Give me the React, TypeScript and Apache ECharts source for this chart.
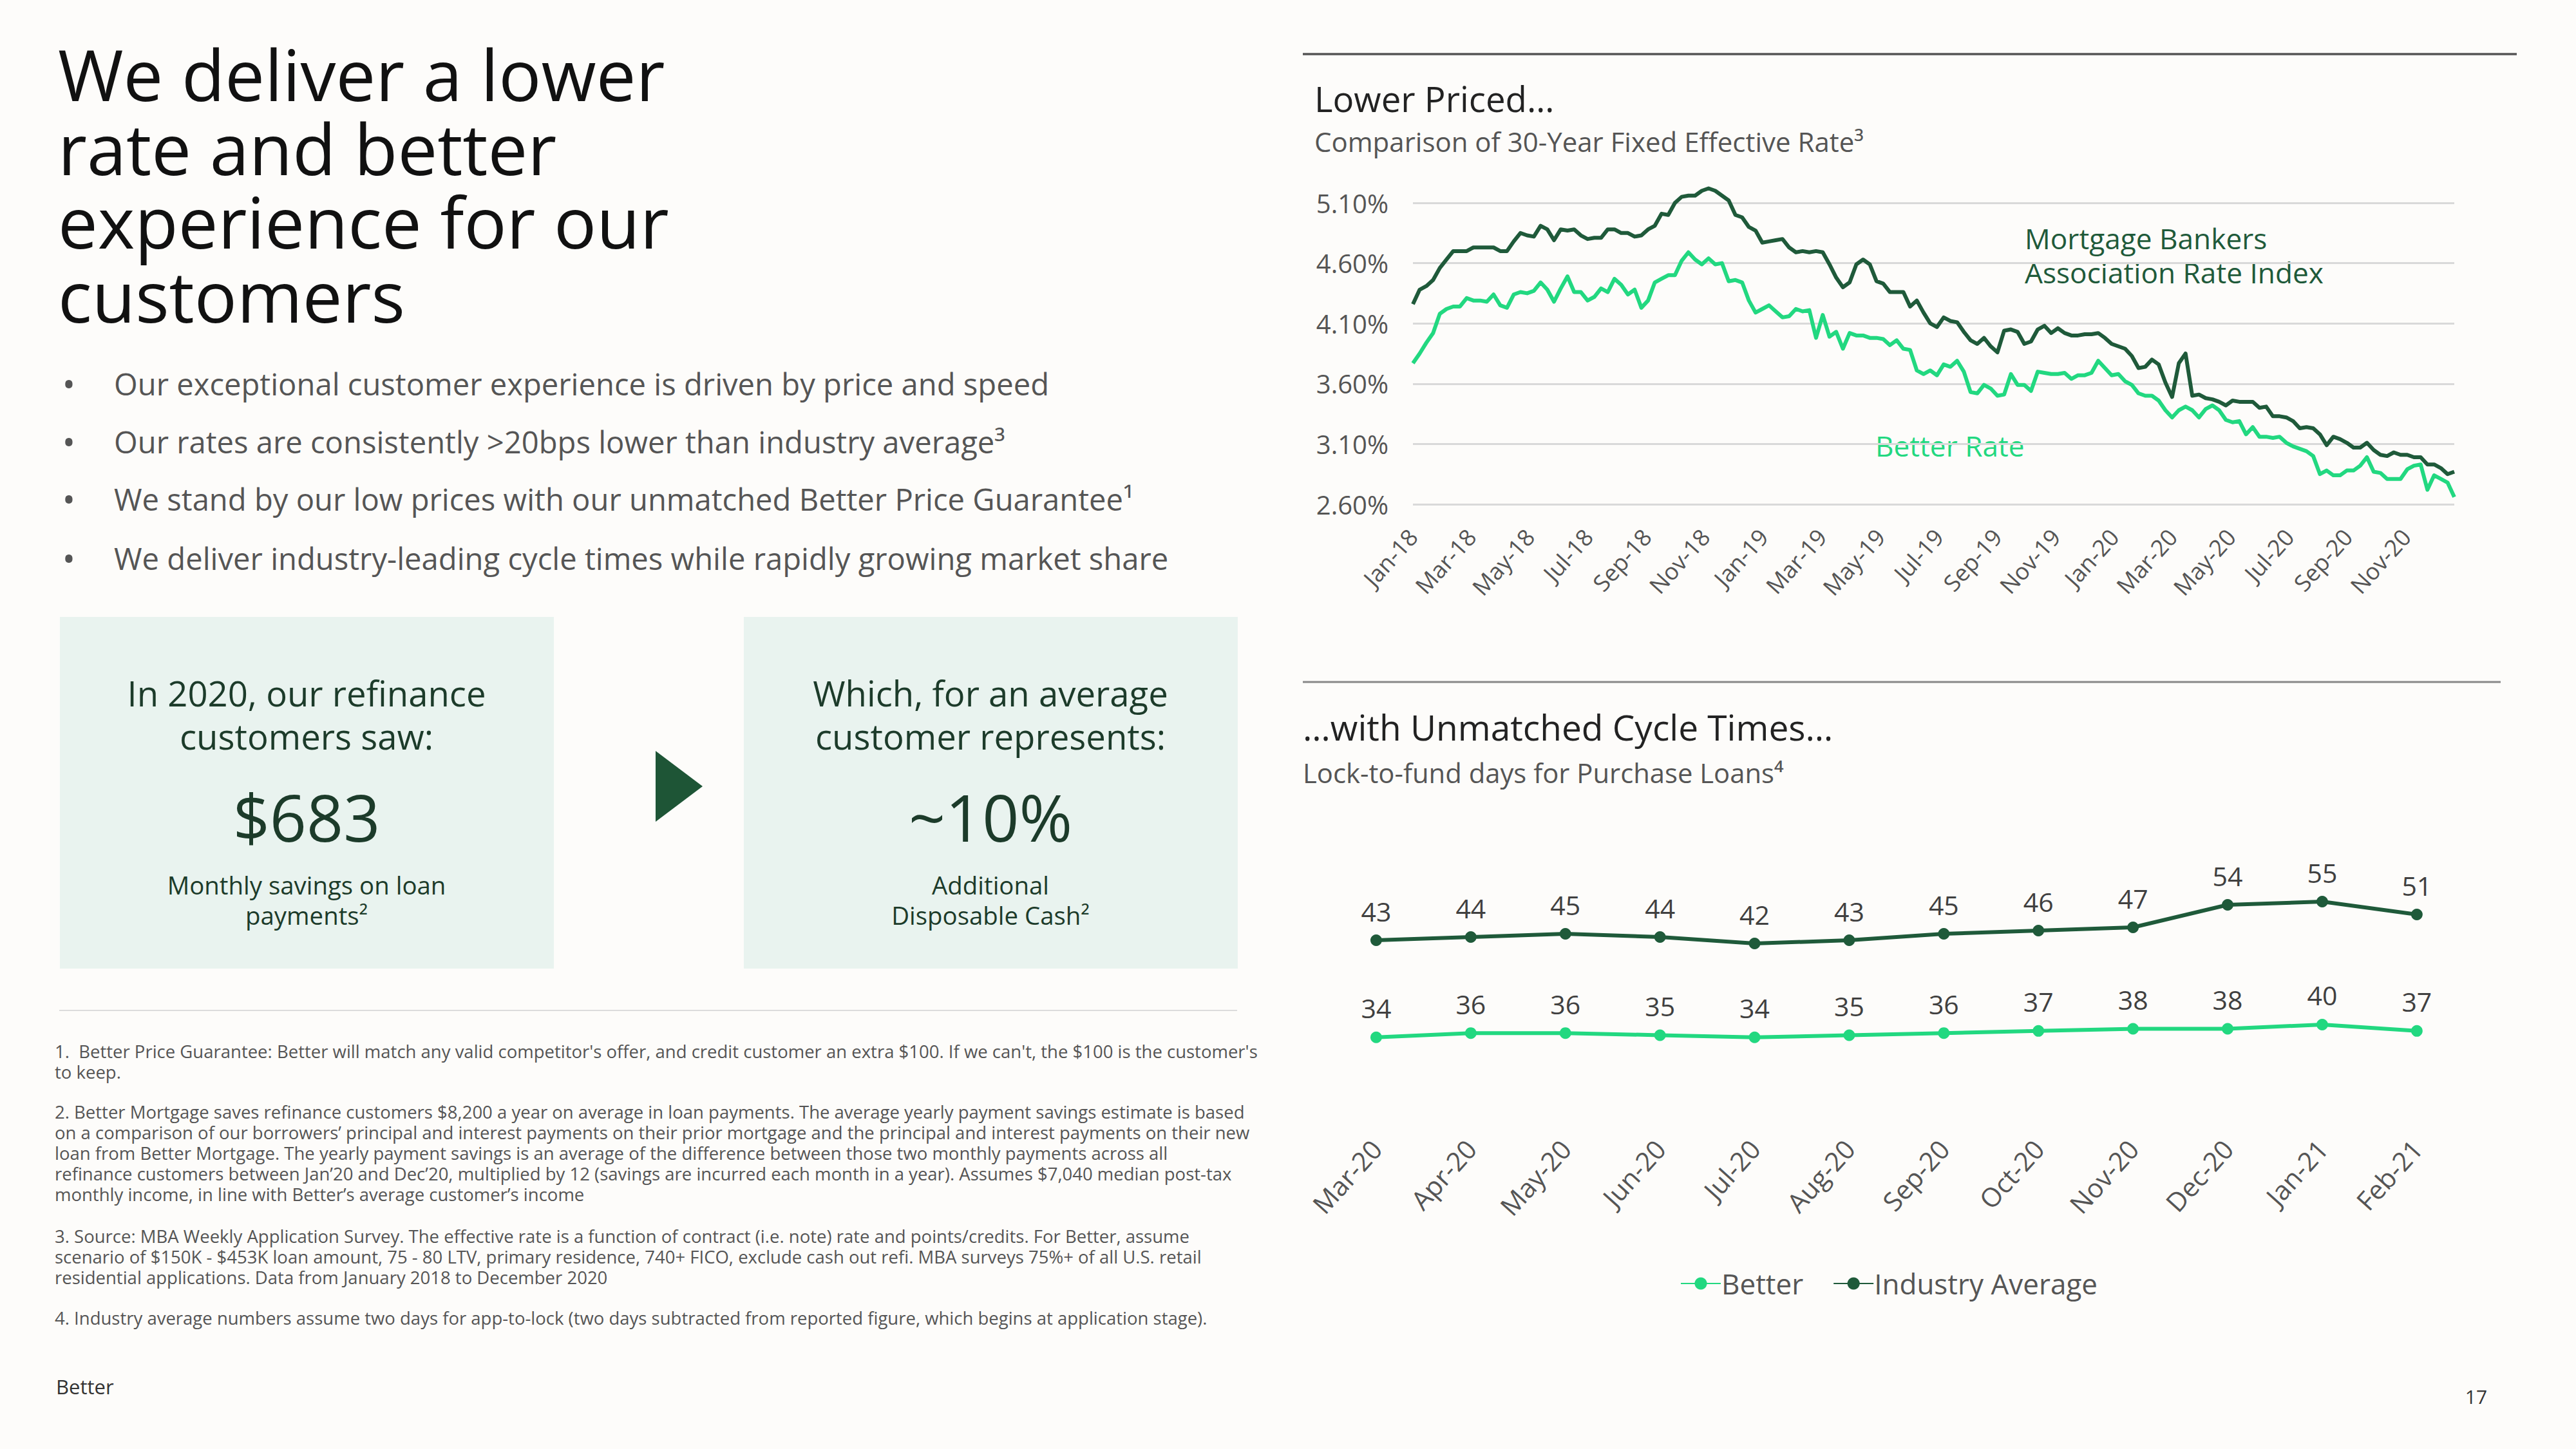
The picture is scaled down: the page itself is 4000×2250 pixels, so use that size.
import React, { useEffect, useRef } from 'react';
import * as echarts from 'echarts';

const FONT = '"Open Sans", Lato, "Noto Sans", "DejaVu Sans", sans-serif';
const DARK = '#1f5a3a';
const LIGHT = '#22d880';

// ---- Chart 1: weekly 30-year fixed effective rate (%), Jan 2018 - Dec 2020 ----
const rateTickLabels = [
  'Jan-18', 'Mar-18', 'May-18', 'Jul-18', 'Sep-18', 'Nov-18',
  'Jan-19', 'Mar-19', 'May-19', 'Jul-19', 'Sep-19', 'Nov-19',
  'Jan-20', 'Mar-20', 'May-20', 'Jul-20', 'Sep-20', 'Nov-20',
];
const rateAxisValues = ['2.60%', '3.10%', '3.60%', '4.10%', '4.60%', '5.10%'];

const mbaRate = [
  4.26, 4.38, 4.41, 4.46, 4.56, 4.63, 4.70, 4.70, 4.70, 4.73, 4.73, 4.73, 4.73, 4.70, 4.70, 4.78, 4.85, 4.83, 4.82, 4.91,
  4.88, 4.79, 4.88, 4.87, 4.88, 4.83, 4.80, 4.81, 4.81, 4.88, 4.88, 4.85, 4.85, 4.82, 4.83, 4.88, 4.91, 5.01, 5.00, 5.10,
  5.15, 5.16, 5.16, 5.20, 5.22, 5.20, 5.16, 5.12, 5.00, 4.98, 4.90, 4.87, 4.77,
  4.78, 4.79, 4.80, 4.73, 4.69, 4.70, 4.69, 4.70, 4.69, 4.59, 4.48, 4.40, 4.44, 4.59, 4.63, 4.59, 4.45, 4.43, 4.36, 4.36,
  4.36, 4.24, 4.29, 4.19, 4.10, 4.07, 4.15, 4.12, 4.11, 4.03, 3.96, 3.93, 3.98, 3.91, 3.86, 4.04, 4.05, 4.03, 3.93, 3.95,
  4.05, 4.08, 4.02, 4.06, 4.02, 4.00, 4.00, 4.01, 4.01, 4.02, 3.98, 3.93,
  3.91, 3.89, 3.83, 3.73, 3.74, 3.80, 3.76, 3.61, 3.49, 3.77, 3.85, 3.50, 3.51, 3.48, 3.47, 3.45, 3.42, 3.46, 3.45, 3.45,
  3.45, 3.40, 3.41, 3.33, 3.33, 3.32, 3.29, 3.23, 3.24, 3.23, 3.18, 3.09, 3.16, 3.14, 3.11, 3.07, 3.07, 3.11, 3.05, 3.01,
  3.00, 3.03, 3.01, 3.01, 2.99, 2.99, 2.93, 2.93, 2.90, 2.85, 2.87,
];

const betterRate = [
  3.77, 3.85, 3.94, 4.02, 4.18, 4.22, 4.24, 4.24, 4.31, 4.29, 4.29, 4.28, 4.34, 4.25, 4.23, 4.34, 4.36, 4.35, 4.37, 4.44,
  4.38, 4.28, 4.39, 4.49, 4.36, 4.36, 4.29, 4.32, 4.39, 4.36, 4.47, 4.42, 4.34, 4.38, 4.23, 4.29, 4.44, 4.47, 4.50, 4.50,
  4.62, 4.69, 4.63, 4.59, 4.64, 4.59, 4.60, 4.45, 4.46, 4.44, 4.29, 4.19, 4.22,
  4.25, 4.20, 4.15, 4.16, 4.22, 4.20, 4.21, 3.98, 4.17, 3.99, 4.03, 3.89, 4.02, 4.00, 4.00, 3.98, 3.98, 3.97, 3.92, 3.96,
  3.89, 3.88, 3.71, 3.68, 3.71, 3.67, 3.76, 3.74, 3.79, 3.70, 3.53, 3.52, 3.59, 3.56, 3.50, 3.51, 3.68, 3.59, 3.59, 3.54,
  3.70, 3.69, 3.68, 3.68, 3.69, 3.64, 3.67, 3.67, 3.69, 3.79, 3.73, 3.67,
  3.68, 3.62, 3.59, 3.52, 3.50, 3.50, 3.46, 3.38, 3.32, 3.38, 3.41, 3.38, 3.32, 3.39, 3.42, 3.38, 3.30, 3.28, 3.29, 3.18,
  3.24, 3.16, 3.16, 3.15, 3.16, 3.11, 3.08, 3.06, 3.04, 3.00, 2.85, 2.88, 2.84, 2.84, 2.88, 2.88, 2.92, 2.99, 2.87, 2.86,
  2.81, 2.81, 2.81, 2.89, 2.92, 2.93, 2.72, 2.84, 2.81, 2.78, 2.66,
];

// ---- Chart 2: lock-to-fund days ----
const cycleMonths = ['Mar-20', 'Apr-20', 'May-20', 'Jun-20', 'Jul-20', 'Aug-20', 'Sep-20', 'Oct-20', 'Nov-20', 'Dec-20', 'Jan-21', 'Feb-21'];
const betterDays = [34, 36, 36, 35, 34, 35, 36, 37, 38, 38, 40, 37];
const industryDays = [43, 44, 45, 44, 42, 43, 45, 46, 47, 54, 55, 51];

const titleLines = ['We deliver a lower', 'rate and better', 'experience for our', 'customers'];
const bullets = [
  'Our exceptional customer experience is driven by price and speed',
  'Our rates are consistently >20bps lower than industry average³',
  'We stand by our low prices with our unmatched Better Price Guarantee¹',
  'We deliver industry-leading cycle times while rapidly growing market share',
];
const footnotes = [
  [
    '1.  Better Price Guarantee: Better will match any valid competitor\'s offer, and credit customer an extra $100. If we can\'t, the $100 is the customer\'s',
    'to keep.',
  ],
  [
    '2. Better Mortgage saves refinance customers $8,200 a year on average in loan payments. The average yearly payment savings estimate is based',
    'on a comparison of our borrowers’ principal and interest payments on their prior mortgage and the principal and interest payments on their new',
    'loan from Better Mortgage. The yearly payment savings is an average of the difference between those two monthly payments across all',
    'refinance customers between Jan’20 and Dec’20, multiplied by 12 (savings are incurred each month in a year). Assumes $7,040 median post-tax',
    'monthly income, in line with Better’s average customer’s income',
  ],
  [
    '3. Source: MBA Weekly Application Survey. The effective rate is a function of contract (i.e. note) rate and points/credits. For Better, assume',
    'scenario of $150K - $453K loan amount, 75 - 80 LTV, primary residence, 740+ FICO, exclude cash out refi. MBA surveys 75%+ of all U.S. retail',
    'residential applications. Data from January 2018 to December 2020',
  ],
  [
    '4. Industry average numbers assume two days for app-to-lock (two days subtracted from reported figure, which begins at application stage).',
  ],
];

const WEEK = 7 / 30.4375; // one week in months
const RATE_BASE = 2.6;

const txt = (text: string, x: number, y: number, size: number, color: string, align = 'left', extra: any = {}) => ({
  type: 'text',
  x,
  y,
  silent: true,
  style: {
    text,
    fill: color,
    fontSize: size,
    fontFamily: FONT,
    align,
    verticalAlign: 'middle',
    textAlign: align,
    textVerticalAlign: 'middle',
    ...extra,
  },
});

const App = () => {
  const ref = useRef<HTMLDivElement>(null);
  useEffect(() => {
    document.body.style.margin = '0';
    const chart = echarts.init(ref.current as HTMLDivElement, null, { renderer: 'svg' });

    const toXY = (arr: number[]) => arr.map((v, i) => [i * WEEK, +(v - RATE_BASE).toFixed(4)]);
    const xMax = (mbaRate.length - 1) * WEEK;

    const graphics: any[] = [];
    // Title (one text element per line)
    const titleY = [114, 229, 343, 458];
    titleLines.forEach((line, i) => {
      graphics.push(txt(line, 90, titleY[i], 110, '#111'));
    });
    // Bullets
    const bulletY = [596, 686, 775, 867];
    bullets.forEach((b, i) => {
      graphics.push(txt('•', 107, bulletY[i], 54, '#555', 'center'));
      graphics.push(txt(b, 177, bulletY[i], 47.2, '#555'));
    });
    // Boxes
    graphics.push({ type: 'rect', silent: true, shape: { x: 93, y: 958, width: 767, height: 546 }, style: { fill: '#e9f3ef' } });
    graphics.push({ type: 'rect', silent: true, shape: { x: 1155, y: 958, width: 767, height: 546 }, style: { fill: '#e9f3ef' } });
    graphics.push({ type: 'polygon', silent: true, shape: { points: [[1018, 1166], [1091, 1221], [1018, 1276]] }, style: { fill: '#1e5536' } });
    const boxInk = '#1c3b2a';
    graphics.push(txt('In 2020, our refinance', 476, 1076, 54.5, boxInk, 'center'));
    graphics.push(txt('customers saw:', 476, 1143, 54.5, boxInk, 'center'));
    graphics.push(txt('$683', 476, 1268, 100, boxInk, 'center'));
    graphics.push(txt('Monthly savings on loan', 476, 1374, 38.4, boxInk, 'center'));
    graphics.push(txt('payments²', 476, 1421, 38.4, boxInk, 'center'));
    graphics.push(txt('Which, for an average', 1538, 1076, 54.5, boxInk, 'center'));
    graphics.push(txt('customer represents:', 1538, 1143, 54.5, boxInk, 'center'));
    graphics.push(txt('~10%', 1538, 1268, 100, boxInk, 'center'));
    graphics.push(txt('Additional', 1538, 1374, 38.4, boxInk, 'center'));
    graphics.push(txt('Disposable Cash²', 1538, 1421, 38.4, boxInk, 'center'));
    // Separator
    graphics.push({ type: 'line', silent: true, shape: { x1: 92, y1: 1569, x2: 1921, y2: 1569 }, style: { stroke: '#dcdcdc', lineWidth: 2 } });
    // Footnotes
    const fnTop = [1632, 1726, 1919, 2046];
    footnotes.forEach((lines, i) => {
      graphics.push({
        type: 'text', x: 85, y: fnTop[i] - 16, silent: true,
        style: {
          text: lines.join('\n'), fill: '#555', fontSize: 27.5, fontFamily: FONT, lineHeight: 32,
          align: 'left', verticalAlign: 'top', textAlign: 'left', textVerticalAlign: 'top',
        },
      });
    });
    graphics.push(txt('Better', 87, 2153, 31, '#333'));
    graphics.push(txt('17', 3845, 2168, 30, '#333', 'center'));

    // Right side rules and titles
    graphics.push({ type: 'line', silent: true, shape: { x1: 2023, y1: 84, x2: 3908, y2: 84 }, style: { stroke: '#555', lineWidth: 3.5 } });
    graphics.push({ type: 'line', silent: true, shape: { x1: 2023, y1: 1059, x2: 3883, y2: 1059 }, style: { stroke: '#888', lineWidth: 3 } });
    graphics.push(txt('Lower Priced…', 2041, 153, 54.6, '#222'));
    graphics.push(txt('Comparison of 30-Year Fixed Effective Rate³', 2041, 219, 42, '#555'));
    graphics.push(txt('…with Unmatched Cycle Times…', 2023, 1128, 55, '#222'));
    graphics.push(txt('Lock-to-fund days for Purchase Loans⁴', 2023, 1199, 41.8, '#555'));
    // Line annotations
    graphics.push(txt('Mortgage Bankers', 3144, 370, 44.2, DARK));
    graphics.push(txt('Association Rate Index', 3144, 423, 44.2, DARK));
    graphics.push(txt('Better Rate', 2912, 692, 44.2, LIGHT));

    const option: any = {
      animation: false,
      backgroundColor: '#fdfcfa',
      textStyle: { fontFamily: FONT },
      graphic: { elements: graphics },
      grid: [
        { left: 2194, top: 315, width: 1617, height: 468 },
        { left: 2063.5, top: 1270, width: 1762.8, height: 420 },
      ],
      xAxis: [
        {
          type: 'value', gridIndex: 0, min: 0, max: xMax, interval: 2,
          axisLine: { show: false }, axisTick: { show: false }, splitLine: { show: false },
          axisLabel: {
            rotate: 48, margin: 44, fontSize: 36, color: '#555', fontFamily: FONT, showMaxLabel: false,
            formatter: (v: number) => {
              const k = Math.round(v / 2);
              return Math.abs(v - 2 * k) < 1e-6 && k < rateTickLabels.length ? rateTickLabels[k] : '';
            },
          },
        },
        {
          type: 'category', gridIndex: 1, data: cycleMonths, boundaryGap: true,
          axisLine: { show: false }, axisTick: { show: false }, splitLine: { show: false },
          axisLabel: { rotate: 48, margin: 86, fontSize: 41, color: '#555', fontFamily: FONT, interval: 0 },
        },
      ],
      yAxis: [
        {
          type: 'value', gridIndex: 0, min: 0, max: 2.5, interval: 0.5,
          axisLine: { show: false }, axisTick: { show: false },
          splitLine: { show: true, lineStyle: { color: '#d9d9d9', width: 3 } },
          axisLabel: {
            margin: 38, fontSize: 40, color: '#555', fontFamily: FONT,
            formatter: (v: number) => rateAxisValues[Math.round(v / 0.5)] ?? '',
          },
        },
        { type: 'value', gridIndex: 1, min: -3, max: 81, show: false, splitLine: { show: false } },
        { type: 'value', gridIndex: 1, min: 10, max: 137.2, show: false, splitLine: { show: false } },
      ],
      legend: {
        data: ['Better', 'Industry Average'],
        left: 2604, top: 1966, itemWidth: 62, itemHeight: 24, itemGap: 46,
        textStyle: { fontSize: 44, color: '#555', fontFamily: FONT, padding: [0, 0, 0, -4] },
      },
      series: [
        {
          name: 'MBA Rate Index', type: 'line', xAxisIndex: 0, yAxisIndex: 0, data: toXY(mbaRate), clip: false,
          showSymbol: false, lineStyle: { color: DARK, width: 6, join: 'round' }, itemStyle: { color: DARK }, z: 3,
        },
        {
          name: 'Better Rate', type: 'line', xAxisIndex: 0, yAxisIndex: 0, data: toXY(betterRate), clip: false,
          showSymbol: false, lineStyle: { color: LIGHT, width: 6, join: 'round' }, itemStyle: { color: LIGHT }, z: 3,
        },
        {
          name: 'Better', type: 'line', xAxisIndex: 1, yAxisIndex: 2, data: betterDays,
          symbol: 'circle', symbolSize: 18, lineStyle: { color: LIGHT, width: 6 }, itemStyle: { color: LIGHT },
          label: { show: true, position: 'top', distance: 16, fontSize: 41, color: '#404040', fontFamily: FONT },
        },
        {
          name: 'Industry Average', type: 'line', xAxisIndex: 1, yAxisIndex: 1, data: industryDays,
          symbol: 'circle', symbolSize: 18, lineStyle: { color: DARK, width: 6 }, itemStyle: { color: DARK },
          label: { show: true, position: 'top', distance: 16, fontSize: 41, color: '#404040', fontFamily: FONT },
        },
      ],
    };
    chart.setOption(option);
    return () => chart.dispose();
  }, []);
  return <div ref={ref} style={{ width: 4000, height: 2250 }} />;
};

export default App;
